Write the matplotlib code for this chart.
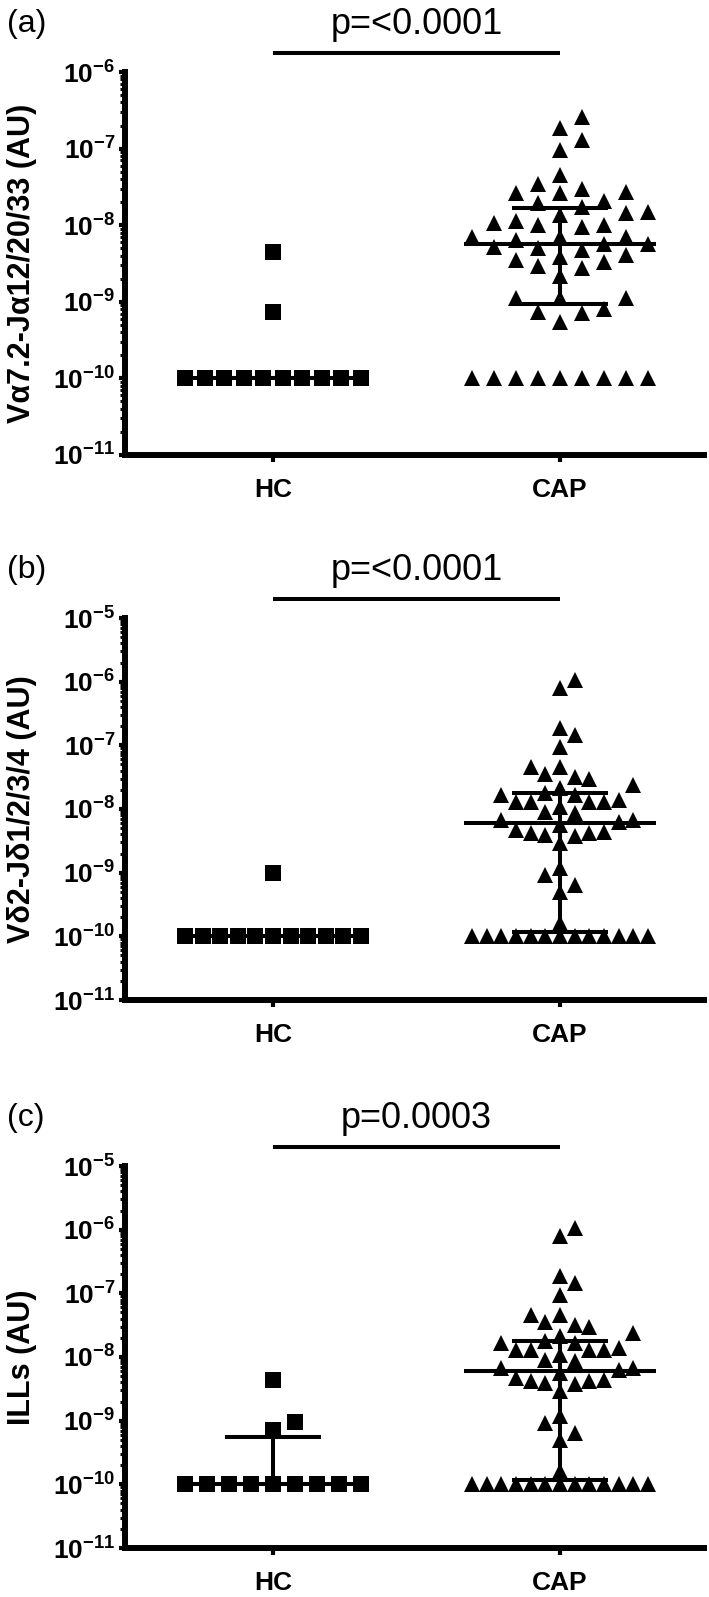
import numpy as np
import matplotlib
matplotlib.use("Agg")
import matplotlib.pyplot as plt
import matplotlib.transforms as mtransforms
from matplotlib.ticker import LogLocator, FuncFormatter, NullFormatter

plt.rcParams['font.family'] = ['Liberation Sans', 'DejaVu Sans']
plt.rcParams['mathtext.fontset'] = 'custom'
plt.rcParams['mathtext.rm'] = 'Liberation Sans'
plt.rcParams['mathtext.bf'] = 'Liberation Sans:bold'
plt.rcParams['mathtext.it'] = 'Liberation Sans:italic'

# ---------------- data ----------------
groups = ['HC', 'CAP']
panel_labels = ['(a)', '(b)', '(c)']
ylabels = ['V\u03b17.2-J\u03b112/20/33 (AU)', 'V\u03b42-J\u03b41/2/3/4 (AU)', 'ILLs (AU)']
p_texts = ['p=<0.0001', 'p=<0.0001', 'p=0.0003']
y_top = [1e-6, 1e-5, 1e-5]
y_bottom = [1e-11, 1e-11, 1e-11]

hc_a = [1e-10, 1e-10, 1e-10, 1e-10, 1e-10, 1e-10, 1e-10, 1e-10, 1e-10, 1e-10,
        4.5e-9, 7.4e-10]
cap_a = [2.6e-7, 1.84e-7, 1.29e-7, 9.5e-8, 4.5e-8, 3.0e-8, 3.5e-8, 2.6e-8, 2.6e-8,
         2.75e-8, 1.95e-8, 2.05e-8, 1.5e-8, 1.75e-8, 1.35e-8, 1.45e-8, 1.12e-8,
         1.06e-8, 9.5e-9, 1.0e-8, 1.0e-8, 7.1e-9, 7.1e-9, 7.1e-9, 6.5e-9, 5.2e-9,
         5.75e-9, 5.0e-9, 5.75e-9, 4.8e-9, 3.3e-9, 3.55e-9, 3.9e-9, 4.1e-9,
         2.75e-9, 2.9e-9, 2.15e-9, 1.12e-9, 1.12e-9, 1.12e-9, 7.1e-10, 7.4e-10,
         8.1e-10, 5.5e-10,
         1e-10, 1e-10, 1e-10, 1e-10, 1e-10, 1e-10, 1e-10, 1e-10, 1e-10]

hc_b = [1e-10, 1e-10, 1e-10, 1e-10, 1e-10, 1e-10, 1e-10, 1e-10, 1e-10, 1e-10, 1e-10,
        1e-9]
cap_b = [1.06e-6, 7.9e-7, 1.85e-7, 1.45e-7, 9.5e-8, 4.6e-8, 4.6e-8, 3.0e-8, 3.6e-8,
         3.2e-8, 2.4e-8, 2.1e-8, 1.76e-8, 1.66e-8, 1.66e-8, 1.39e-8, 1.3e-8, 1.3e-8,
         1.3e-8, 1.3e-8, 1.09e-8, 9.1e-9, 8.6e-9, 6.7e-9, 6.7e-9, 6.3e-9, 5.6e-9,
         4.7e-9, 3.7e-9, 4.15e-9, 3.9e-9, 4.15e-9, 4.4e-9, 2.9e-9, 1.17e-9, 9.2e-10,
         6.4e-10, 5.0e-10, 1.6e-10,
         1e-10, 1e-10, 1e-10, 1e-10, 1e-10, 1e-10, 1e-10, 1e-10, 1e-10, 1e-10, 1e-10,
         1e-10, 1e-10]

hc_c = [1e-10, 1e-10, 1e-10, 1e-10, 1e-10, 1e-10, 1e-10, 1e-10, 1e-10,
        4.4e-9, 9.6e-10, 7.2e-10]
cap_c = [1.06e-6, 7.9e-7, 1.85e-7, 1.45e-7, 9.5e-8, 4.6e-8, 4.6e-8, 3.0e-8, 3.6e-8,
         3.2e-8, 2.4e-8, 2.1e-8, 1.76e-8, 1.66e-8, 1.66e-8, 1.39e-8, 1.3e-8, 1.3e-8,
         1.3e-8, 1.3e-8, 1.09e-8, 9.1e-9, 8.6e-9, 6.7e-9, 6.7e-9, 6.3e-9, 5.6e-9,
         4.7e-9, 3.7e-9, 4.15e-9, 3.9e-9, 4.15e-9, 4.4e-9, 2.9e-9, 1.17e-9, 9.2e-10,
         6.4e-10, 5.0e-10, 1.6e-10,
         1e-10, 1e-10, 1e-10, 1e-10, 1e-10, 1e-10, 1e-10, 1e-10, 1e-10, 1e-10, 1e-10,
         1e-10, 1e-10]

# median, lower quartile, upper quartile
hc_a_stats = [1e-10, 1e-10, 1e-10]
cap_a_stats = [5.7e-9, 9.5e-10, 1.66e-8]
hc_b_stats = [1e-10, 1e-10, 1e-10]
cap_b_stats = [6.0e-9, 1.17e-10, 1.8e-8]
hc_c_stats = [1e-10, 1e-10, 5.5e-10]
cap_c_stats = [6.0e-9, 1.17e-10, 1.8e-8]

panels = [
    (hc_a, cap_a, hc_a_stats, cap_a_stats),
    (hc_b, cap_b, hc_b_stats, cap_b_stats),
    (hc_c, cap_c, hc_c_stats, cap_c_stats),
]

# ---------------- layout ----------------
W, H = 709, 1597
fig = plt.figure(figsize=(W / 100, H / 100), dpi=100)
ax_left_px, ax_right_px = 125, 704
ax_tops = [72, 618, 1166]
ax_bots = [455, 1000, 1548]
hc_px, cap_px = 273, 560
unit = cap_px - hc_px
xlim = ((ax_left_px - hc_px) / unit, (ax_right_px - hc_px) / unit)

MS = 12          # marker size (pt)
LW_BAR = 2.9     # error bar line width (pt)
SWARM_HALF_PX = 88
COLLIDE_PX = 17


def swarm(ax, values, xc):
    vals = np.asarray(values, float)
    ypx = ax.transData.transform(np.column_stack([np.full(len(vals), xc), vals]))[:, 1]
    slots = np.zeros(len(vals))
    placed = {}
    floor = vals.min()
    floor_idx = np.where(vals == floor)[0]
    n0 = len(floor_idx)
    for j, i in enumerate(floor_idx):
        slots[i] = j - (n0 - 1) / 2
    rest = [i for i in np.argsort(ypx, kind='stable') if vals[i] != floor]
    cand = [0]
    for m in range(1, 30):
        cand += [m, -m]
    for i in rest:
        k = 0
        for k in cand:
            ok = all(abs(ypx[i] - ypx[j]) >= COLLIDE_PX for j in placed.get(k, []))
            if ok:
                break
        placed.setdefault(k, []).append(i)
        slots[i] = k
    maxk = max(np.abs(slots).max(), 1)
    px_per_unit = ax.transData.transform((1, 1e-10))[0] - ax.transData.transform((0, 1e-10))[0]
    spacing = SWARM_HALF_PX / maxk / px_per_unit
    return xc + slots * spacing


for p in range(3):
    top, bot = ax_tops[p], ax_bots[p]
    rect = [ax_left_px / W, 1 - bot / H, (ax_right_px - ax_left_px) / W, (bot - top) / H]
    ax = fig.add_axes(rect)
    ax.set_yscale('log')
    ax.set_ylim(y_bottom[p], y_top[p])
    ax.set_xlim(*xlim)

    for side in ['top', 'right']:
        ax.spines[side].set_visible(False)
    for side in ['left', 'bottom']:
        ax.spines[side].set_linewidth(4.3)
        ax.spines[side].set_capstyle('projecting')

    ax.set_xticks([0, 1])
    ax.set_xticklabels(groups, fontsize=19, fontweight='bold')
    ax.tick_params(axis='x', length=5, width=3, pad=11.5, direction='out')

    ax.yaxis.set_major_locator(LogLocator(base=10, numticks=20))
    ax.yaxis.set_minor_locator(LogLocator(base=10, subs=np.arange(2, 10), numticks=20))
    ax.yaxis.set_major_formatter(FuncFormatter(lambda v, pos: r'$\mathbf{10^{%d}}$' % round(np.log10(v))))
    ax.yaxis.set_minor_formatter(NullFormatter())
    ax.tick_params(axis='y', which='major', length=4, width=3, pad=3, labelsize=19)
    ax.tick_params(axis='y', which='minor', length=3.5, width=2.2)

    ax.set_ylabel(ylabels[p], fontsize=22, fontweight='bold', va='center', ha='center')
    ax.yaxis.set_label_coords((22 - ax_left_px) / (ax_right_px - ax_left_px), 0.5)

    hc_vals, cap_vals, hc_stats, cap_stats = panels[p]
    for xc, vals, marker in [(0, hc_vals, 's'), (1, cap_vals, '^')]:
        xs = swarm(ax, vals, xc)
        ax.plot(xs, vals, ls='none', marker=marker, ms=MS, color='black', mew=0,
                zorder=3, clip_on=False)

    for xc, (med, q1, q3) in [(0, hc_stats), (1, cap_stats)]:
        ax.plot([xc - 0.334, xc + 0.334], [med, med], color='black', lw=LW_BAR,
                solid_capstyle='butt', zorder=4)
        for q in (q1, q3):
            ax.plot([xc - 0.167, xc + 0.167], [q, q], color='black', lw=LW_BAR,
                    solid_capstyle='butt', zorder=4)
        ax.plot([xc, xc], [q1, q3], color='black', lw=LW_BAR, solid_capstyle='butt', zorder=4)

    h_px = bot - top
    trans = mtransforms.blended_transform_factory(ax.transData, ax.transAxes)
    ax.plot([0, 1], [1 + 19 / h_px, 1 + 19 / h_px], transform=trans, color='black',
            lw=LW_BAR, clip_on=False, solid_capstyle='butt')
    ax.text(0.5, 1 + 48 / h_px, p_texts[p], transform=trans, ha='center', va='center',
            fontsize=26)
    ax.text((7 - ax_left_px) / (ax_right_px - ax_left_px), 1 + 48 / h_px, panel_labels[p],
            transform=ax.transAxes, ha='left', va='center', fontsize=23)

fig.savefig('out.png', dpi=100)
